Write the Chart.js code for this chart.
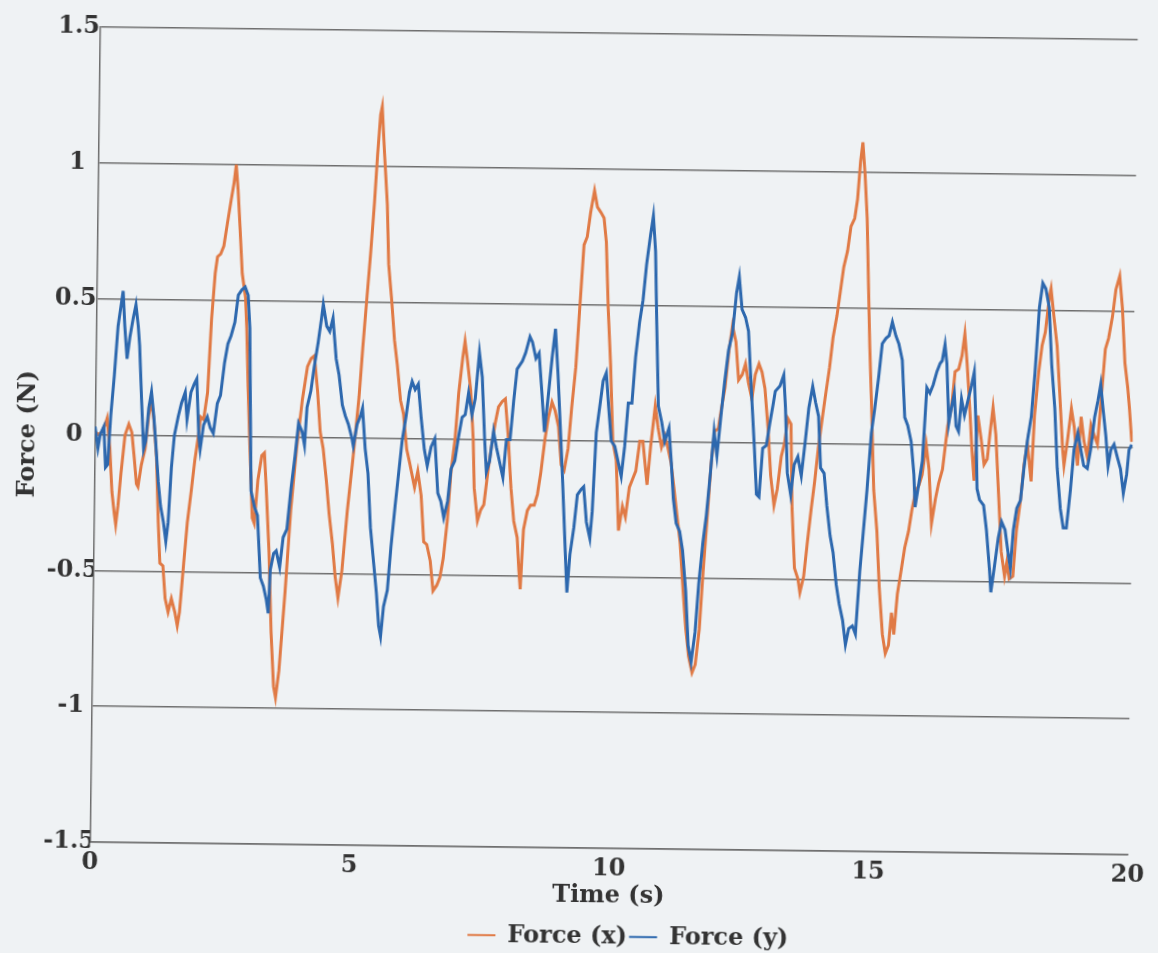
<!DOCTYPE html>
<html>
<head>
<meta charset="utf-8">
<script src="https://cdn.jsdelivr.net/npm/chart.js@4.4.1/dist/chart.umd.min.js"></script>
<style>
    html, body { margin: 0; padding: 0; background: #eff2f4; overflow: hidden; }
    #wrap {
        width: 1158px;
        height: 953px;
        transform: rotate(0.7deg);
        transform-origin: 50% 50%;
    }
</style>
</head>
<body>
<div id="wrap"><canvas id="forceChart"></canvas></div>
<script>
// Force readings, [time (s), force (N)]
const forceX = [
    [0.00,0.01],[0.07,0.00],[0.13,0.01],[0.20,0.04],[0.23,0.06],[0.29,-0.05],[0.34,-0.21],[0.39,-0.29],[0.42,-0.33],[0.46,-0.26],
    [0.51,-0.14],[0.55,-0.06],[0.58,0.00],[0.65,0.04],[0.71,0.01],[0.76,-0.08],[0.81,-0.18],[0.84,-0.19],[0.90,-0.11],[0.97,-0.05],
    [1.03,0.07],[1.08,0.13],[1.13,0.06],[1.19,-0.08],[1.24,-0.32],[1.28,-0.47],[1.34,-0.48],[1.39,-0.60],[1.45,-0.65],[1.51,-0.60],
    [1.58,-0.65],[1.63,-0.70],[1.67,-0.65],[1.74,-0.47],[1.80,-0.32],[1.87,-0.20],[1.93,-0.09],[2.00,0.01],[2.03,0.07],[2.09,0.06],
    [2.16,0.16],[2.22,0.43],[2.28,0.60],[2.32,0.66],[2.38,0.67],[2.44,0.70],[2.50,0.78],[2.57,0.87],[2.62,0.93],[2.66,1.00],
    [2.70,0.91],[2.75,0.76],[2.80,0.60],[2.87,0.51],[2.90,0.40],[2.94,0.18],[2.99,-0.05],[3.05,-0.30],[3.09,-0.32],[3.15,-0.16],
    [3.22,-0.07],[3.27,-0.06],[3.31,-0.18],[3.38,-0.42],[3.44,-0.72],[3.50,-0.92],[3.54,-0.96],[3.60,-0.86],[3.70,-0.57],[3.79,-0.27],
    [3.89,-0.04],[3.99,0.14],[4.08,0.26],[4.15,0.29],[4.21,0.30],[4.28,0.17],[4.34,0.02],[4.40,-0.04],[4.47,-0.16],[4.53,-0.28],
    [4.60,-0.39],[4.66,-0.51],[4.72,-0.59],[4.79,-0.49],[4.88,-0.27],[4.98,-0.07],[5.08,0.15],[5.14,0.33],[5.21,0.52],[5.27,0.68],
    [5.33,0.86],[5.38,1.04],[5.43,1.19],[5.46,1.22],[5.51,1.06],[5.58,0.86],[5.62,0.64],[5.69,0.50],[5.75,0.36],[5.81,0.27],
    [5.88,0.14],[5.94,0.09],[6.01,-0.04],[6.07,-0.09],[6.17,-0.18],[6.23,-0.12],[6.30,-0.21],[6.36,-0.38],[6.42,-0.39],[6.49,-0.45],
    [6.55,-0.56],[6.62,-0.54],[6.68,-0.51],[6.74,-0.44],[6.81,-0.30],[6.87,-0.12],[6.94,0.00],[7.00,0.17],[7.07,0.30],[7.11,0.36],
    [7.16,0.29],[7.23,0.18],[7.29,0.00],[7.32,-0.18],[7.39,-0.30],[7.45,-0.26],[7.51,-0.24],[7.58,-0.12],[7.64,-0.03],[7.71,0.06],
    [7.77,0.12],[7.84,0.14],[7.90,0.15],[7.96,0.02],[8.03,-0.18],[8.09,-0.30],[8.16,-0.36],[8.20,-0.48],[8.23,-0.55],[8.28,-0.33],
    [8.35,-0.26],[8.41,-0.24],[8.48,-0.24],[8.54,-0.20],[8.60,-0.12],[8.67,0.00],[8.73,0.08],[8.80,0.14],[8.86,0.11],[8.93,0.05],
    [8.99,-0.09],[9.05,-0.11],[9.12,-0.03],[9.18,0.12],[9.25,0.27],[9.31,0.48],[9.38,0.72],[9.44,0.75],[9.50,0.84],[9.57,0.92],
    [9.63,0.86],[9.70,0.84],[9.76,0.82],[9.81,0.73],[9.86,0.49],[9.92,0.28],[9.98,0.00],[10.05,-0.07],[10.11,-0.33],[10.18,-0.24],
    [10.24,-0.28],[10.31,-0.17],[10.37,-0.14],[10.43,-0.11],[10.50,0.00],[10.56,0.00],[10.65,-0.16],[10.71,-0.02],[10.79,0.13],[10.85,0.05],
    [10.92,-0.02],[10.98,0.02],[11.04,-0.02],[11.11,-0.08],[11.17,-0.17],[11.24,-0.28],[11.30,-0.37],[11.37,-0.55],[11.43,-0.69],[11.49,-0.79],
    [11.56,-0.85],[11.62,-0.82],[11.69,-0.69],[11.75,-0.48],[11.81,-0.30],[11.88,-0.08],[11.94,0.04],[12.01,0.05],[12.07,0.13],[12.13,0.20],
    [12.20,0.34],[12.26,0.43],[12.33,0.37],[12.39,0.23],[12.46,0.25],[12.52,0.29],[12.58,0.22],[12.65,0.16],[12.71,0.25],[12.78,0.29],
    [12.84,0.26],[12.90,0.20],[12.97,0.05],[13.03,-0.12],[13.10,-0.23],[13.16,-0.17],[13.23,-0.05],[13.29,0.00],[13.35,0.09],[13.41,0.07],
    [13.45,-0.24],[13.51,-0.46],[13.58,-0.50],[13.62,-0.55],[13.69,-0.49],[13.75,-0.37],[13.82,-0.24],[13.88,-0.14],[13.94,-0.02],[14.01,0.09],
    [14.07,0.18],[14.14,0.28],[14.20,0.39],[14.27,0.47],[14.33,0.56],[14.39,0.65],[14.46,0.71],[14.52,0.80],[14.59,0.83],[14.64,0.90],
    [14.69,1.04],[14.73,1.11],[14.78,0.99],[14.83,0.83],[14.87,0.59],[14.91,0.36],[14.96,0.13],[15.02,-0.17],[15.09,-0.32],[15.15,-0.53],
    [15.22,-0.70],[15.28,-0.77],[15.34,-0.74],[15.39,-0.62],[15.44,-0.70],[15.50,-0.55],[15.57,-0.46],[15.63,-0.38],[15.70,-0.32],[15.76,-0.24],
    [15.83,-0.17],[15.89,-0.15],[15.95,-0.11],[16.02,0.00],[16.08,-0.09],[16.14,-0.29],[16.21,-0.20],[16.27,-0.14],[16.34,-0.09],[16.43,0.07],
    [16.50,0.14],[16.56,0.27],[16.63,0.28],[16.69,0.33],[16.74,0.41],[16.79,0.30],[16.85,0.14],[16.90,-0.01],[16.95,-0.13],[17.01,0.11],
    [17.08,0.02],[17.14,-0.07],[17.20,-0.05],[17.25,0.05],[17.30,0.14],[17.36,0.04],[17.43,-0.19],[17.49,-0.39],[17.56,-0.48],[17.60,-0.43],
    [17.65,-0.49],[17.72,-0.48],[17.78,-0.31],[17.85,-0.20],[17.91,-0.07],[17.97,0.01],[18.05,-0.13],[18.10,0.11],[18.17,0.27],[18.23,0.37],
    [18.29,0.42],[18.36,0.55],[18.39,0.58],[18.45,0.48],[18.52,0.37],[18.58,0.20],[18.65,-0.01],[18.68,-0.07],[18.74,0.02],[18.81,0.14],
    [18.87,0.07],[18.94,-0.07],[19.00,0.11],[19.06,0.02],[19.13,-0.04],[19.19,0.08],[19.26,0.04],[19.32,0.01],[19.39,0.20],[19.45,0.36],
    [19.51,0.40],[19.58,0.48],[19.64,0.58],[19.71,0.63],[19.77,0.51],[19.83,0.31],[19.89,0.22],[19.93,0.14],[19.98,0.02]
];

const forceY = [
    [0.00,0.03],[0.06,-0.05],[0.10,0.00],[0.17,0.03],[0.21,-0.12],[0.25,-0.11],[0.30,0.07],[0.36,0.22],[0.42,0.40],[0.51,0.53],
    [0.55,0.40],[0.60,0.28],[0.65,0.36],[0.71,0.43],[0.76,0.48],[0.81,0.40],[0.84,0.33],[0.89,0.13],[0.94,-0.05],[0.98,-0.02],
    [1.03,0.10],[1.08,0.16],[1.13,0.07],[1.17,-0.02],[1.23,-0.17],[1.28,-0.26],[1.34,-0.32],[1.39,-0.39],[1.43,-0.32],[1.48,-0.12],
    [1.53,0.00],[1.60,0.07],[1.66,0.12],[1.73,0.16],[1.77,0.06],[1.84,0.16],[1.90,0.19],[1.95,0.21],[2.00,0.00],[2.03,-0.05],
    [2.09,0.04],[2.16,0.07],[2.22,0.03],[2.28,0.01],[2.35,0.12],[2.41,0.15],[2.48,0.27],[2.54,0.34],[2.60,0.37],[2.67,0.42],
    [2.73,0.52],[2.80,0.54],[2.86,0.55],[2.92,0.52],[2.96,0.40],[2.99,0.10],[3.02,-0.20],[3.09,-0.26],[3.15,-0.29],[3.22,-0.52],
    [3.28,-0.55],[3.34,-0.60],[3.38,-0.65],[3.41,-0.49],[3.47,-0.43],[3.52,-0.42],[3.59,-0.48],[3.65,-0.37],[3.72,-0.34],[3.79,-0.19],
    [3.86,-0.07],[3.92,0.05],[3.99,0.02],[4.04,-0.03],[4.08,0.11],[4.15,0.17],[4.21,0.26],[4.28,0.35],[4.34,0.44],[4.37,0.49],
    [4.44,0.41],[4.50,0.39],[4.56,0.44],[4.63,0.29],[4.69,0.23],[4.76,0.12],[4.82,0.08],[4.88,0.05],[4.95,0.00],[4.98,-0.03],
    [5.05,0.05],[5.11,0.08],[5.15,0.11],[5.21,-0.04],[5.27,-0.13],[5.33,-0.33],[5.40,-0.46],[5.46,-0.57],[5.51,-0.69],[5.55,-0.73],
    [5.60,-0.62],[5.67,-0.56],[5.73,-0.40],[5.80,-0.25],[5.86,-0.13],[5.92,-0.01],[5.99,0.08],[6.05,0.17],[6.10,0.21],[6.16,0.18],
    [6.22,0.20],[6.28,0.08],[6.35,-0.04],[6.41,-0.10],[6.48,-0.03],[6.55,0.00],[6.62,-0.20],[6.68,-0.23],[6.74,-0.29],[6.81,-0.23],
    [6.87,-0.11],[6.94,-0.08],[7.00,0.00],[7.07,0.08],[7.13,0.09],[7.19,0.17],[7.26,0.09],[7.32,0.15],[7.39,0.32],[7.45,0.23],
    [7.51,0.00],[7.55,-0.12],[7.61,-0.08],[7.68,0.03],[7.74,-0.03],[7.80,-0.08],[7.87,-0.14],[7.93,0.00],[8.00,0.00],[8.06,0.14],
    [8.12,0.26],[8.22,0.29],[8.28,0.32],[8.36,0.38],[8.41,0.36],[8.48,0.30],[8.54,0.32],[8.60,0.18],[8.66,0.03],[8.72,0.15],
    [8.79,0.30],[8.85,0.41],[8.91,0.24],[8.98,0.00],[9.02,-0.14],[9.09,-0.41],[9.13,-0.56],[9.18,-0.42],[9.25,-0.32],[9.31,-0.20],
    [9.38,-0.18],[9.43,-0.17],[9.49,-0.30],[9.56,-0.36],[9.60,-0.26],[9.66,0.03],[9.73,0.14],[9.78,0.22],[9.84,0.25],[9.89,0.13],
    [9.95,0.00],[10.02,-0.02],[10.08,-0.07],[10.15,-0.13],[10.21,-0.02],[10.27,0.14],[10.34,0.14],[10.40,0.31],[10.47,0.44],[10.53,0.52],
    [10.59,0.65],[10.66,0.76],[10.71,0.83],[10.76,0.70],[10.80,0.43],[10.85,0.13],[10.92,0.07],[10.98,0.00],[11.06,0.05],[11.11,-0.07],
    [11.16,-0.21],[11.22,-0.30],[11.29,-0.33],[11.35,-0.40],[11.42,-0.55],[11.48,-0.75],[11.54,-0.81],[11.61,-0.70],[11.67,-0.52],[11.74,-0.37],
    [11.80,-0.27],[11.87,-0.11],[11.93,0.04],[11.99,-0.05],[12.06,0.10],[12.12,0.22],[12.19,0.34],[12.26,0.40],[12.33,0.55],[12.38,0.61],
    [12.44,0.49],[12.51,0.46],[12.57,0.41],[12.62,0.25],[12.66,0.13],[12.71,-0.02],[12.76,-0.19],[12.81,-0.20],[12.87,-0.02],[12.94,-0.01],
    [13.00,0.07],[13.06,0.14],[13.10,0.19],[13.19,0.21],[13.26,0.25],[13.30,0.13],[13.35,-0.11],[13.42,-0.19],[13.48,-0.08],[13.55,-0.05],
    [13.62,-0.12],[13.69,0.01],[13.75,0.13],[13.82,0.21],[13.88,0.15],[13.94,0.10],[13.99,-0.09],[14.06,-0.11],[14.12,-0.23],[14.19,-0.34],
    [14.25,-0.40],[14.32,-0.52],[14.38,-0.59],[14.45,-0.65],[14.51,-0.74],[14.57,-0.68],[14.64,-0.67],[14.70,-0.70],[14.77,-0.47],[14.83,-0.32],
    [14.89,-0.17],[14.96,0.04],[15.02,0.13],[15.09,0.25],[15.15,0.37],[15.22,0.39],[15.28,0.40],[15.34,0.45],[15.41,0.40],[15.47,0.37],
    [15.54,0.31],[15.60,0.10],[15.66,0.07],[15.73,0.01],[15.79,-0.11],[15.82,-0.23],[15.89,-0.14],[15.95,-0.06],[16.02,0.21],[16.08,0.19],
    [16.14,0.22],[16.21,0.27],[16.27,0.30],[16.31,0.31],[16.36,0.37],[16.40,0.30],[16.45,0.08],[16.50,0.14],[16.55,0.19],[16.59,0.07],
    [16.64,0.05],[16.69,0.17],[16.75,0.11],[16.82,0.17],[16.88,0.22],[16.93,0.27],[16.98,0.05],[17.01,-0.16],[17.06,-0.20],[17.14,-0.22],
    [17.20,-0.31],[17.27,-0.46],[17.30,-0.54],[17.36,-0.45],[17.43,-0.34],[17.49,-0.28],[17.56,-0.31],[17.62,-0.39],[17.67,-0.45],[17.72,-0.31],
    [17.78,-0.23],[17.85,-0.20],[17.91,-0.08],[17.97,0.02],[18.04,0.11],[18.10,0.27],[18.17,0.51],[18.23,0.60],[18.29,0.58],[18.36,0.51],
    [18.42,0.30],[18.49,0.14],[18.55,-0.08],[18.62,-0.23],[18.68,-0.30],[18.74,-0.30],[18.81,-0.16],[18.87,-0.01],[18.94,0.05],[19.00,-0.01],
    [19.06,-0.07],[19.13,-0.08],[19.19,-0.01],[19.26,0.11],[19.32,0.17],[19.37,0.23],[19.42,0.14],[19.48,0.04],[19.53,-0.07],[19.58,-0.01],
    [19.64,0.01],[19.71,-0.04],[19.77,-0.08],[19.83,-0.17],[19.89,-0.10],[19.93,-0.01],[19.98,0.01]
];

const xTicks = [0, 5, 10, 15, 20];
const yTicks = [-1.5, -1, -0.5, 0, 0.5, 1, 1.5];

const orange = '#e07a45';
const blue = '#2d68ae';
const ink = '#333333';
const gridGrey = '#6e6e6e';

const serif = { family: '"DejaVu Serif", "Liberation Serif", serif', size: 24, weight: 'bold', lineHeight: 1 };

function toPoints(rows) {
    return rows.map(function (r) { return { x: r[0], y: r[1] }; });
}

// the legend sits a little right of centre in the original figure
const legendShift = {
    id: 'legendShift',
    afterLayout: function (chart) {
        chart.legend.left += 61;
        chart.legend.right += 61;
    }
};

const ctx = document.getElementById('forceChart').getContext('2d');
const forceChart = new Chart(ctx, {
    type: 'line',
    data: {
        datasets: [{
            label: 'Force (x)',
            data: toPoints(forceX),
            borderColor: orange,
            backgroundColor: orange,
            borderWidth: 3,
            pointRadius: 0,
            tension: 0,
            order: 1
        }, {
            label: 'Force (y)',
            data: toPoints(forceY),
            borderColor: blue,
            backgroundColor: blue,
            borderWidth: 3,
            pointRadius: 0,
            tension: 0,
            order: 0
        }]
    },
    options: {
        responsive: true,
        maintainAspectRatio: false,
        animation: false,
        layout: {
            padding: { left: 12, right: 25, top: 33, bottom: -5.3 }
        },
        plugins: {
            legend: {
                position: 'bottom',
                labels: {
                    color: ink,
                    font: serif,
                    boxWidth: 28,
                    boxHeight: 2,
                    padding: 2,
                    sort: function (a, b) { return a.datasetIndex - b.datasetIndex; },
                    generateLabels: function (chart) {
                        const items = Chart.defaults.plugins.legend.labels.generateLabels(chart);
                        items.forEach(function (it) { it.lineWidth = 0; });
                        return items;
                    }
                }
            },
            tooltip: { enabled: false }
        },
        scales: {
            x: {
                type: 'linear',
                min: 0,
                max: 20,
                afterBuildTicks: function (axis) {
                    axis.ticks = xTicks.map(function (v) { return { value: v }; });
                },
                grid: { display: false, drawTicks: false },
                border: { display: true, color: gridGrey, width: 1.5 },
                ticks: {
                    color: ink,
                    font: serif,
                    padding: 9,
                    maxRotation: 0,
                    callback: function (value) { return String(value); }
                },
                title: {
                    display: true,
                    text: 'Time (s)',
                    color: ink,
                    font: serif,
                    padding: { top: -6.5, bottom: 14.8 }
                }
            },
            y: {
                min: -1.5,
                max: 1.5,
                afterBuildTicks: function (axis) {
                    axis.ticks = yTicks.map(function (v) { return { value: v }; });
                },
                afterFit: function (axis) {
                    axis.width = 82.5;
                },
                grid: {
                    color: gridGrey,
                    lineWidth: 1.5,
                    drawTicks: false
                },
                border: { display: true, color: gridGrey, width: 1.5 },
                ticks: {
                    color: ink,
                    font: serif,
                    crossAlign: 'center',
                    padding: -5,
                    callback: function (value) { return String(value); }
                },
                title: {
                    display: true,
                    text: 'Force (N)',
                    color: ink,
                    font: serif,
                    padding: { top: 4, bottom: 4 }
                }
            }
        }
    },
    plugins: [legendShift]
});
</script>
</body>
</html>
